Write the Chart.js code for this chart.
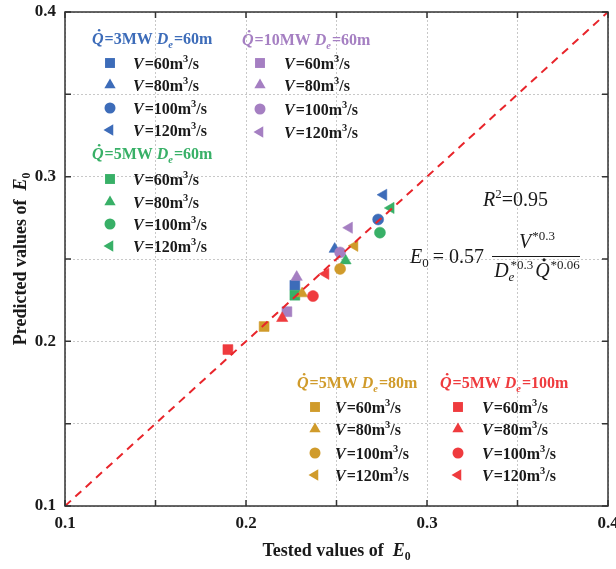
<!DOCTYPE html>
<html>
<head>
<meta charset="utf-8">
<script src="https://cdn.jsdelivr.net/npm/chart.js@4.4.0/dist/chart.umd.min.js"></script>
<style>
    html, body { margin: 0; padding: 0; background: #ffffff; }
    #wrap { width: 616px; height: 569px; }
</style>
</head>
<body>
<div id="wrap"><canvas id="e0-chart" width="616" height="569"></canvas></div>
<script>
// flow rates of each group, in the order of the markers
const flowRates = [60, 80, 100, 120];

// tested / predicted E0, one pair of arrays per fire case
const tested3MW60 = [0.227, 0.249, 0.273, 0.276];
const predicted3MW60 = [0.234, 0.256, 0.274, 0.289];
const tested10MW60 = [0.2226, 0.228, 0.252, 0.257];
const predicted10MW60 = [0.218, 0.239, 0.254, 0.269];
const tested5MW60 = [0.227, 0.255, 0.274, 0.280];
const predicted5MW60 = [0.228, 0.249, 0.266, 0.281];
const tested5MW80 = [0.210, 0.231, 0.252, 0.260];
const predicted5MW80 = [0.209, 0.229, 0.244, 0.258];
const tested5MW100 = [0.190, 0.220, 0.237, 0.244];
const predicted5MW100 = [0.195, 0.214, 0.2275, 0.241];

// axis range and ticks
const axisMin = 0.1;
const axisMax = 0.4;
const tickStep = 0.05;
const tickLabels = ['0.1', '0.2', '0.3', '0.4'];

const fontFamily = '"Liberation Serif", "Times New Roman", serif';
const markerStyles = ['rect', 'triangle', 'circle', 'triangle'];
const markerRotations = [0, 0, 0, -90];
const markerRadii = [7, 6.5, 5.5, 6.5];

const groups = [
    { power: '3', de: '60', color: '#3d6cb9', tested: tested3MW60, predicted: predicted3MW60, order: 5,
      legend: { x: 92, titleY: 44, markerX: 110, textX: 133, rows: [63, 85, 108, 130] } },
    { power: '10', de: '60', color: '#a57fc2', tested: tested10MW60, predicted: predicted10MW60, order: 3,
      legend: { x: 242, titleY: 45, markerX: 260, textX: 284, rows: [63, 85, 109, 132] } },
    { power: '5', de: '60', color: '#38b067', tested: tested5MW60, predicted: predicted5MW60, order: 4,
      legend: { x: 92, titleY: 159, markerX: 110, textX: 133, rows: [179, 202, 224, 246] } },
    { power: '5', de: '80', color: '#d09b2b', tested: tested5MW80, predicted: predicted5MW80, order: 2,
      legend: { x: 297, titleY: 388, markerX: 315, textX: 335, rows: [407, 429, 453, 475] } },
    { power: '5', de: '100', color: '#ef3b3e', tested: tested5MW100, predicted: predicted5MW100, order: 1,
      legend: { x: 440, titleY: 388, markerX: 458, textX: 482, rows: [407, 429, 453, 475] } }
];

function font(size, italic, bold) {
    return (italic ? 'italic ' : '') + (bold ? 'bold ' : '') + size + 'px ' + fontFamily;
}

function partSize(p, size) {
    return (p.sup || p.sub) ? size * 0.65 : size;
}

function richWidth(ctx, parts, size, bold) {
    let w = 0;
    parts.forEach(p => {
        ctx.font = font(partSize(p, size), p.i, bold);
        w += ctx.measureText(p.t).width + (p.gap || 0);
    });
    return w;
}

// draws a run of text pieces (italic, superscript, subscript, dotted Q)
function drawRich(ctx, x, y, parts, size, bold, color, align) {
    if (align === 'center') x -= richWidth(ctx, parts, size, bold) / 2;
    ctx.save();
    ctx.fillStyle = color;
    ctx.textBaseline = 'alphabetic';
    ctx.textAlign = 'left';
    parts.forEach(p => {
        const s = partSize(p, size);
        ctx.font = font(s, p.i, bold);
        const dy = p.sup ? -size * 0.4 : p.sub ? size * 0.22 : 0;
        ctx.fillText(p.t, x, y + dy);
        const w = ctx.measureText(p.t).width;
        if (p.dot) {
            ctx.beginPath();
            ctx.arc(x + w * 0.62, y - size * 0.86, size * 0.08, 0, Math.PI * 2);
            ctx.fill();
        }
        x += w + (p.gap || 0);
    });
    ctx.restore();
}

const overlayPlugin = {
    id: 'overlay',
    afterDatasetsDraw(chart) {
        const ctx = chart.ctx;
        const area = chart.chartArea;
        const xs = chart.scales.x;
        const ys = chart.scales.y;

        // frame with inward ticks
        ctx.save();
        ctx.strokeStyle = '#333333';
        ctx.lineWidth = 1.5;
        ctx.strokeRect(area.left, area.top, area.right - area.left, area.bottom - area.top);
        ctx.beginPath();
        for (let v = axisMin; v <= axisMax + 1e-9; v += tickStep) {
            const px = xs.getPixelForValue(v);
            const py = ys.getPixelForValue(v);
            ctx.moveTo(px, area.bottom); ctx.lineTo(px, area.bottom - 6);
            ctx.moveTo(px, area.top); ctx.lineTo(px, area.top + 6);
            ctx.moveTo(area.left, py); ctx.lineTo(area.left + 6, py);
            ctx.moveTo(area.right, py); ctx.lineTo(area.right - 6, py);
        }
        ctx.stroke();
        ctx.restore();
    },
    afterDraw(chart) {
        const ctx = chart.ctx;
        const area = chart.chartArea;
        const dark = '#1a1a1a';

        // axis titles
        drawRich(ctx, (area.left + area.right) / 2, 556,
            [{ t: 'Tested values of  ' }, { t: 'E', i: true }, { t: '0', sub: true }], 18, true, dark, 'center');
        ctx.save();
        ctx.translate(26, (area.top + area.bottom) / 2);
        ctx.rotate(-Math.PI / 2);
        drawRich(ctx, 0, 0,
            [{ t: 'Predicted values of  ' }, { t: 'E', i: true }, { t: '0', sub: true }], 18, true, dark, 'center');
        ctx.restore();

        // legend blocks
        groups.forEach(g => {
            const L = g.legend;
            drawRich(ctx, L.x, L.titleY, [
                { t: 'Q', i: true, dot: true, gap: 1 },
                { t: '=' + g.power + 'MW ' },
                { t: 'D', i: true },
                { t: 'e', i: true, sub: true, gap: 1 },
                { t: '=' + g.de + 'm' }
            ], 16, true, g.color, 'left');
            flowRates.forEach((v, i) => {
                const cy = L.rows[i];
                ctx.save();
                ctx.fillStyle = g.color;
                ctx.strokeStyle = g.color;
                Chart.helpers.drawPoint(ctx, {
                    pointStyle: markerStyles[i],
                    rotation: markerRotations[i],
                    radius: markerRadii[i],
                    borderWidth: 0
                }, L.markerX, cy);
                ctx.restore();
                drawRich(ctx, L.textX, cy + 5.5, [
                    { t: 'V', i: true, gap: 1 },
                    { t: '=' + v + 'm' },
                    { t: '3', sup: true },
                    { t: '/s' }
                ], 16, true, dark, 'left');
            });
        });

        // fit result
        drawRich(ctx, 483, 206, [{ t: 'R', i: true }, { t: '2', sup: true }, { t: '=0.95' }], 20, false, dark, 'left');
        drawRich(ctx, 410, 263, [{ t: 'E', i: true }, { t: '0', sub: true, gap: 4 }, { t: '= 0.57' }], 20, false, dark, 'left');
        ctx.save();
        ctx.strokeStyle = dark;
        ctx.lineWidth = 1;
        ctx.beginPath();
        ctx.moveTo(492, 256.5);
        ctx.lineTo(580, 256.5);
        ctx.stroke();
        ctx.restore();
        drawRich(ctx, 537, 248, [{ t: 'V', i: true, gap: 1 }, { t: '*0.3', sup: true }], 20, false, dark, 'center');
        drawRich(ctx, 537, 277, [
            { t: 'D', i: true },
            { t: 'e', i: true, sub: true, gap: -4 },
            { t: '*0.3', sup: true, gap: 2 },
            { t: 'Q', i: true, dot: true, gap: 1 },
            { t: '*0.06', sup: true }
        ], 20, false, dark, 'center');
    }
};

const datasets = groups.map(g => ({
    type: 'scatter',
    data: g.tested.map((t, i) => ({ x: t, y: g.predicted[i] })),
    backgroundColor: g.color,
    borderColor: g.color + '88',
    pointBackgroundColor: g.color,
    pointBorderColor: g.color + '88',
    pointBorderWidth: 1,
    pointStyle: markerStyles,
    pointRotation: markerRotations,
    pointRadius: markerRadii,
    pointHoverRadius: markerRadii,
    order: g.order
}));

datasets.push({
    type: 'line',
    data: [{ x: axisMin, y: axisMin }, { x: axisMax, y: axisMax }],
    borderColor: '#e8252b',
    borderWidth: 2,
    borderDash: [8, 6],
    pointRadius: 0,
    fill: false,
    order: 0
});

function axisOptions(afterFit) {
    return {
        type: 'linear',
        min: axisMin,
        max: axisMax,
        afterFit: afterFit,
        ticks: {
            stepSize: tickStep,
            autoSkip: false,
            maxRotation: 0,
            color: '#1a1a1a',
            font: { family: fontFamily, size: 17, weight: 'bold' },
            callback: value => {
                const label = value.toFixed(1);
                return Math.abs(value * 10 - Math.round(value * 10)) < 1e-6 && tickLabels.includes(label) ? label : '';
            }
        },
        grid: {
            color: '#c8c8c8',
            lineWidth: 1,
            drawTicks: false
        },
        border: {
            display: false,
            dash: [2, 2]
        }
    };
}

// keep the plot box fixed: no extra room for overhanging end labels
const xAxis = axisOptions(scale => {
    scale.height = 63;
    scale.paddingLeft = 0;
    scale.paddingRight = 0;
});
xAxis.ticks.padding = 7;
const yAxis = axisOptions(scale => {
    scale.width = 65;
    scale.paddingTop = 0;
    scale.paddingBottom = 0;
});
yAxis.ticks.padding = 9;

new Chart(document.getElementById('e0-chart'), {
    type: 'scatter',
    data: { datasets: datasets },
    options: {
        responsive: false,
        animation: false,
        layout: { padding: { top: 12, right: 3, left: 0, bottom: 0 } },
        plugins: {
            legend: { display: false },
            tooltip: { enabled: false }
        },
        scales: { x: xAxis, y: yAxis }
    },
    plugins: [overlayPlugin]
});
</script>
</body>
</html>
